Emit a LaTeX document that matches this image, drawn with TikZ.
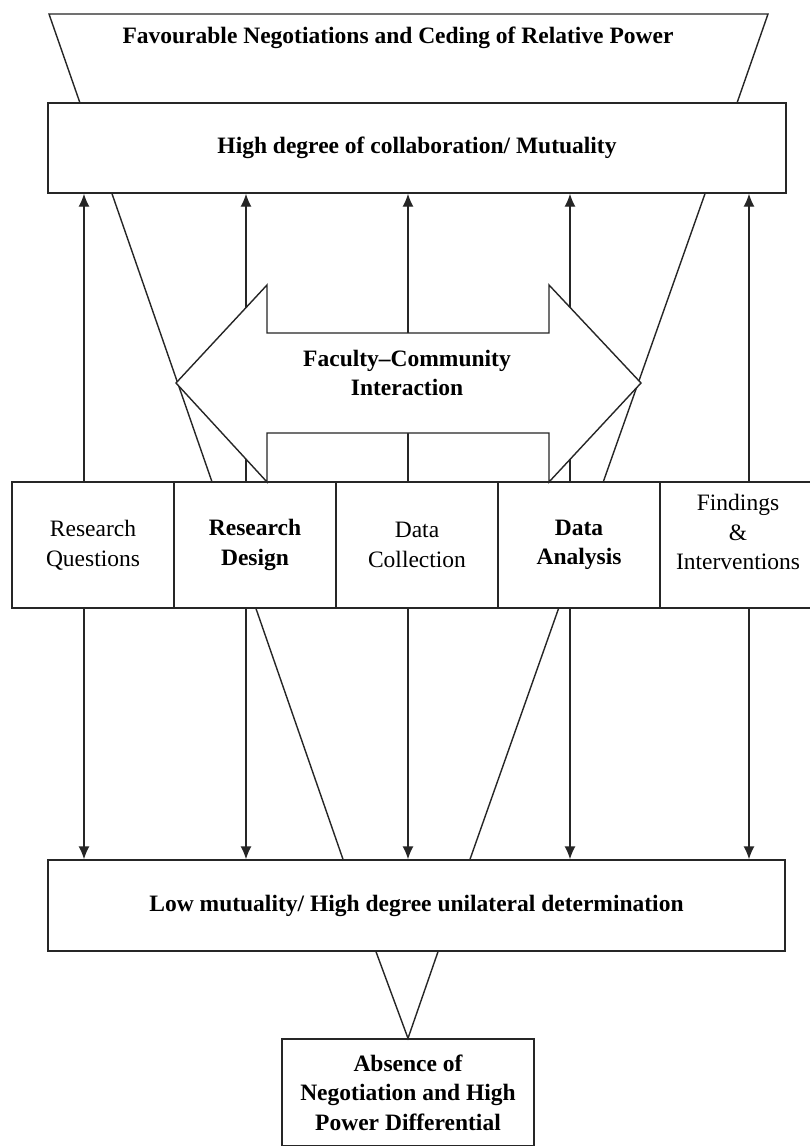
\documentclass[tikz,border=0pt]{standalone}
\usepackage{fontspec}
\setmainfont{Liberation Serif}
\usetikzlibrary{arrows.meta,backgrounds}
\begin{document}
\begin{tikzpicture}[x=1pt,y=-1pt,
  ln/.style={line width=1.4pt,draw=black!85},
  boxn/.style={ln,fill=white,rectangle,inner sep=0pt,align=center},
  rtxt/.style={font=\fontsize{23.5}{29.5}\selectfont},
  btxt/.style={font=\fontsize{23.5}{29.5}\selectfont\bfseries},
  uparr/.style={ln,-{Latex[length=13pt,width=11pt]}},
]
\useasboundingbox (0,0) rectangle (810,1146);

% column x positions
\coordinate (a1) at (84,0);
\coordinate (a2) at (246,0);
\coordinate (a3) at (408,0);
\coordinate (a4) at (570,0);
\coordinate (a5) at (749,0);
\coordinate (fa) at (112,0);
\coordinate (fb) at (343,0);
\coordinate (fc) at (705,0);
\coordinate (fd) at (470,0);
\coordinate (ta) at (376,0);
\coordinate (tb) at (438,0);

% top trapezoid
\draw[ln] (80,103) -- (49,14) -- (768,14) -- (737,103);
\node[btxt] (fav) at (398,38) {Favourable Negotiations and Ceding of Relative Power};

% main boxes
\node[boxn,btxt,minimum width=738pt,minimum height=90pt] (hi) at (417,148) {High degree of collaboration/ Mutuality};
\node[boxn,btxt,minimum width=737pt,minimum height=91pt] (lo) at (416.5,905.5) {Low mutuality/ High degree unilateral determination};
\node[boxn,btxt,minimum width=252pt,minimum height=107pt] (ab) at (408,1092.5) {Absence of\\Negotiation and High\\Power Differential};

% process row
\node[boxn,rtxt,minimum width=162pt,minimum height=126pt] (rq) at (93,545) {Research\\Questions};
\node[boxn,btxt,minimum width=162pt,minimum height=126pt] (rd) at (255,545) {Research\\Design};
\node[boxn,rtxt,minimum width=162pt,minimum height=126pt] (dc) at (417,545) {Data\\Collection};
\node[boxn,btxt,minimum width=162pt,minimum height=126pt] (da) at (579,545) {Data\\Analysis};
\node[boxn,minimum width=152pt,minimum height=126pt] (fi) at (736,545) {};
\node[rtxt,align=center] (fit) at (738,532) {Findings\\\&\\Interventions};

% white page and funnel lines behind everything
\begin{scope}[on background layer]
\fill[white] (0,0) rectangle (810,1146);
\draw[ln] (hi.south -| fa) -- (lo.north -| fb);
\draw[ln] (hi.south -| fc) -- (lo.north -| fd);
\end{scope}

% bottom triangle
\draw[ln] (lo.south -| ta) -- (ab.north) -- (lo.south -| tb);

% vertical arrows
\draw[uparr] (rq.north -| a1) -- (hi.south -| a1);
\draw[uparr] (rd.north -| a2) -- (hi.south -| a2);
\draw[uparr] (dc.north -| a3) -- (hi.south -| a3);
\draw[uparr] (da.north -| a4) -- (hi.south -| a4);
\draw[uparr] (fi.north -| a5) -- (hi.south -| a5);
\draw[uparr] (rq.south -| a1) -- (lo.north -| a1);
\draw[uparr] (rd.south -| a2) -- (lo.north -| a2);
\draw[uparr] (dc.south -| a3) -- (lo.north -| a3);
\draw[uparr] (da.south -| a4) -- (lo.north -| a4);
\draw[uparr] (fi.south -| a5) -- (lo.north -| a5);

% double arrow
\draw[ln,fill=white,line join=miter] (176,383) -- (267,285) -- (267,333) -- (549,333) -- (549,285) -- (641,383)
  -- (549,482) -- (549,433) -- (267,433) -- (267,482) -- cycle;
\node[btxt,align=center] (fci) at (407,373) {Faculty\textendash Community\\Interaction};
\end{tikzpicture}
\end{document}
